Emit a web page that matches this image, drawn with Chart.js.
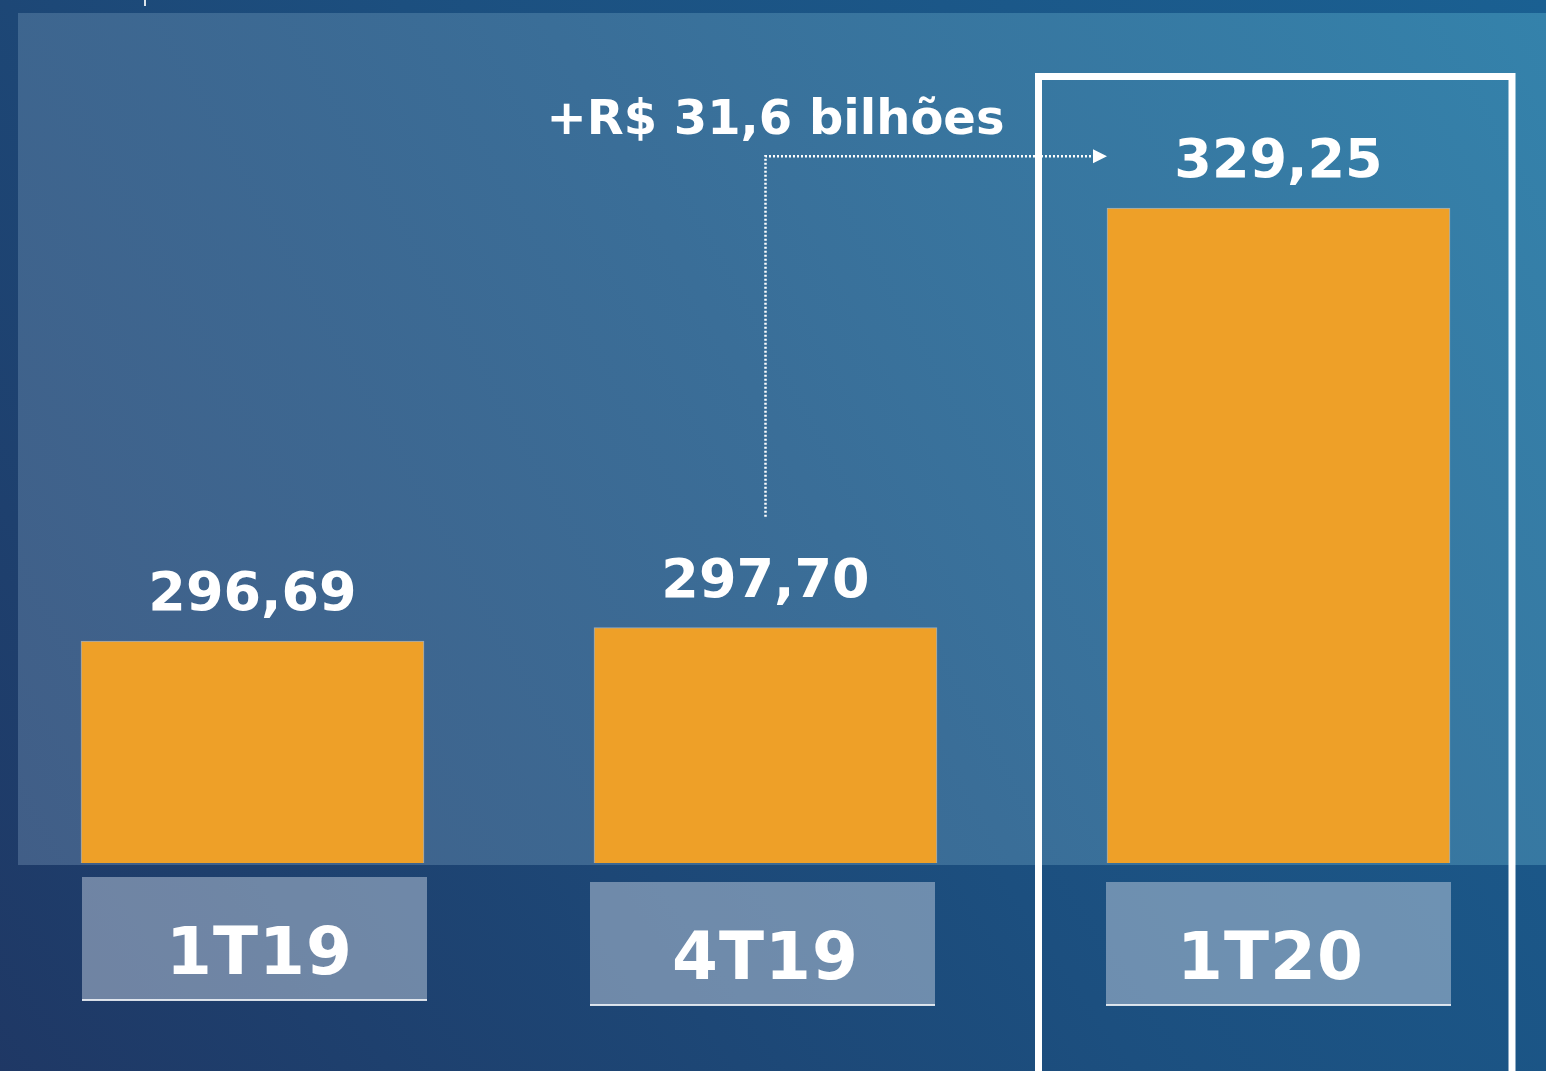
<!DOCTYPE html>
<html>
<head>
<meta charset="utf-8">
<script src="https://cdn.jsdelivr.net/npm/chart.js@4.4.1/dist/chart.umd.min.js"></script>
<style>
  html, body { margin: 0; padding: 0; overflow: hidden; background: #1c4a78; }
  #chart { position: absolute; left: -4px; top: 0; }
</style>
</head>
<body>
<canvas id="chart" width="1550" height="1071"></canvas>
<script>
// quarters and carteira values (R$ bilhões)
const categories = ['1T19', '4T19', '1T20'];
const values = [296.69, 297.70, 329.25];
const valueLabels = ['296,69', '297,70', '329,25'];
const deltaLabel = '+R$ 31,6 bilhões';

const OX = 4; // canvas is shifted 4px left of the page
const FONT = '"DejaVu Sans", Verdana, sans-serif';

const backgroundPlugin = {
  id: 'background',
  beforeDraw(chart) {
    const ctx = chart.ctx;
    const w = chart.width, h = chart.height;
    ctx.save();
    let g = ctx.createLinearGradient(0, h, w, 0);
    g.addColorStop(0, '#1f3865');
    g.addColorStop(0.5, '#1c4f7f');
    g.addColorStop(1, '#1a6092');
    ctx.fillStyle = g;
    ctx.fillRect(0, 0, w, h);

    // lighter panel behind the bars
    const px = 18 + OX, py = 13, pb = chart.chartArea.bottom + 2;
    g = ctx.createLinearGradient(px, pb, w, py);
    g.addColorStop(0, '#415e87');
    g.addColorStop(0.5, '#3a6e98');
    g.addColorStop(1, '#3482ab');
    ctx.fillStyle = g;
    ctx.fillRect(px, py, w - px, pb - py);

    // small tick at the top
    ctx.fillStyle = 'rgba(255,255,255,0.85)';
    ctx.fillRect(144 + OX, 0, 2, 6);
    ctx.restore();
  }
};

const labelsPlugin = {
  id: 'labels',
  afterDatasetsDraw(chart) {
    const ctx = chart.ctx;
    const meta = chart.getDatasetMeta(0);
    const xScale = chart.scales.x;
    const bottom = chart.chartArea.bottom;
    ctx.save();
    ctx.textAlign = 'center';
    ctx.textBaseline = 'middle';

    // value labels above bars
    ctx.fillStyle = '#ffffff';
    ctx.font = 'bold 54px ' + FONT;
    meta.data.forEach((bar, i) => {
      ctx.fillText(valueLabels[i], bar.x, bar.y - 45);
    });

    // category boxes under the bars
    const boxTop = [bottom + 14, bottom + 19, bottom + 19];
    const textShift = [7, 0, -8];
    categories.forEach((cat, i) => {
      const x = xScale.getPixelForTick(i);
      const bw = 345, bh = 123;
      const left = x - bw / 2 + (i == 0 ? 2 : i == 1 ? -3 : 0);
      ctx.fillStyle = 'rgba(205,215,230,0.47)';
      ctx.fillRect(left, boxTop[i], bw, bh);
      ctx.fillStyle = 'rgba(235,240,245,0.9)';
      ctx.fillRect(left, boxTop[i] + bh - 1, bw, 2);
      ctx.fillStyle = '#ffffff';
      ctx.font = 'bold 66px ' + FONT;
      ctx.letterSpacing = '1px';
      ctx.fillText(cat, x + textShift[i], boxTop[i] + bh / 2 + 18);
      ctx.letterSpacing = '0px';
    });

    // dotted connector from 4T19 to 1T20
    const b2 = meta.data[1], b3 = meta.data[2];
    const lineY = b3.y - 52;
    const arrowX = b3.x - b3.width / 2;
    ctx.strokeStyle = '#ffffff';
    ctx.lineWidth = 2.5;
    ctx.setLineDash([2, 2]);
    ctx.beginPath();
    ctx.moveTo(b2.x, b2.y - 111);
    ctx.lineTo(b2.x, lineY);
    ctx.lineTo(arrowX - 12, lineY);
    ctx.stroke();
    ctx.setLineDash([]);
    ctx.fillStyle = '#ffffff';
    ctx.beginPath();
    ctx.moveTo(arrowX - 14, lineY - 7);
    ctx.lineTo(arrowX, lineY);
    ctx.lineTo(arrowX - 14, lineY + 7);
    ctx.closePath();
    ctx.fill();

    ctx.font = 'bold 48px ' + FONT;
    ctx.fillText(deltaLabel, b2.x + 10, lineY - 35);

    // highlight frame around 1T20
    ctx.strokeStyle = '#ffffff';
    ctx.lineWidth = 7;
    ctx.strokeRect(1038.5 + OX, 76.5, 1512 - 1038.5, 1100);
    ctx.restore();
  }
};

new Chart(document.getElementById('chart'), {
  type: 'bar',
  data: {
    labels: categories,
    datasets: [{
      data: values,
      backgroundColor: '#eea028',
      borderColor: 'rgba(190,200,210,0.7)',
      borderWidth: 1,
      barThickness: 343,
    }]
  },
  options: {
    responsive: false,
    animation: false,
    layout: { padding: { left: 0, right: 11, top: 12, bottom: 208 } },
    plugins: {
      legend: { display: false },
      tooltip: { enabled: false },
    },
    scales: {
      x: { display: false },
      y: { display: false, min: 280, max: 344 },
    }
  },
  plugins: [backgroundPlugin, labelsPlugin]
});
</script>
</body>
</html>
